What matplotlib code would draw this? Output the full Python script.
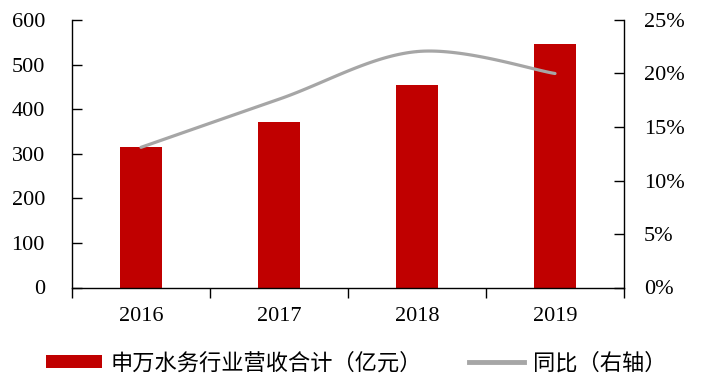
import numpy as np
import matplotlib
matplotlib.use("Agg")
import matplotlib.pyplot as plt
from matplotlib.patches import Patch
from matplotlib.lines import Line2D

years = ["2016", "2017", "2018", "2019"]
revenue = [316, 372, 454, 546]          # 亿元
yoy = [13.1, 17.6, 22.05, 20.0]         # %
left_ticks = [0, 100, 200, 300, 400, 500, 600]
right_ticks = [0, 5, 10, 15, 20, 25]

bar_color = "#C00000"
line_color = "#A6A6A6"
num_font = "Liberation Serif"
cjk_font = ["Noto Sans CJK SC", "DejaVu Sans"]


def catmull_rom(xs, ys, n=40):
    xs = np.asarray(xs, float)
    ys = np.asarray(ys, float)
    px = np.concatenate([[xs[0]], xs, [xs[-1]]])
    py = np.concatenate([[ys[0]], ys, [ys[-1]]])
    outx, outy = [], []
    t = np.linspace(0, 1, n)
    for i in range(1, len(px) - 2):
        p0, p1, p2, p3 = py[i - 1], py[i], py[i + 1], py[i + 2]
        x0, x1, x2, x3 = px[i - 1], px[i], px[i + 1], px[i + 2]
        f = lambda a0, a1, a2, a3: 0.5 * ((2 * a1) + (-a0 + a2) * t
                                          + (2 * a0 - 5 * a1 + 4 * a2 - a3) * t ** 2
                                          + (-a0 + 3 * a1 - 3 * a2 + a3) * t ** 3)
        outx.append(f(x0, x1, x2, x3))
        outy.append(f(p0, p1, p2, p3))
    return np.concatenate(outx), np.concatenate(outy)


fig = plt.figure(figsize=(7.08, 3.91), dpi=100)
ax = fig.add_axes([72 / 708, 1 - 287.5 / 391, (624 - 72) / 708, (287.5 - 20) / 391])
ax2 = ax.twinx()

x = np.arange(len(years))
ax.bar(x, revenue, width=0.31, color=bar_color, zorder=2)
ax.set_xlim(-0.5, len(years) - 0.5)
ax.set_ylim(0, 600)
ax.set_yticks(left_ticks)
ax.set_yticklabels([str(v) for v in left_ticks], fontfamily=num_font, fontsize=16)
ax.set_xticks(x)
ax.set_xticklabels(years, fontfamily=num_font, fontsize=16)
ax.set_xticks(np.arange(-0.5, len(years)), minor=True)
ax.tick_params(axis="x", which="major", length=0, pad=14)
ax.tick_params(axis="x", which="minor", length=7, width=1, direction="out", color="black")
ax.tick_params(axis="y", direction="in", length=7, width=1, pad=19.5, colors="black")

sx, sy = catmull_rom(x, yoy)
ax2.plot(sx, sy, color=line_color, lw=2.3, solid_capstyle="round", zorder=3)
ax2.set_ylim(0, 25)
ax2.set_yticks(right_ticks)
ax2.set_yticklabels([f"{v}%" for v in right_ticks], fontfamily=num_font, fontsize=16)
ax2.tick_params(axis="y", direction="in", length=7, width=1, pad=14.5, colors="black")

for a in (ax, ax2):
    a.spines["top"].set_visible(False)
    for s in ("left", "right", "bottom"):
        a.spines[s].set_linewidth(1.0)
        a.spines[s].set_color("black")
ax.spines["right"].set_visible(False)
ax2.spines["left"].set_visible(False)
ax2.spines["bottom"].set_visible(False)

handles = [Patch(facecolor=bar_color, edgecolor="none"),
           Line2D([0], [0], color=line_color, lw=3.5)]
labels = ["申万水务行业营收合计（亿元）", "同比（右轴）"]
fig.legend(handles, labels, loc="center left", bbox_to_anchor=(46 / 708, 1 - 363 / 391),
           ncol=2, frameon=False, prop={"family": cjk_font, "size": 16},
           borderaxespad=0, borderpad=0,
           handlelength=2.5, handleheight=0.5, handletextpad=0.4, columnspacing=2.1)

fig.savefig("out.png", dpi=100)
